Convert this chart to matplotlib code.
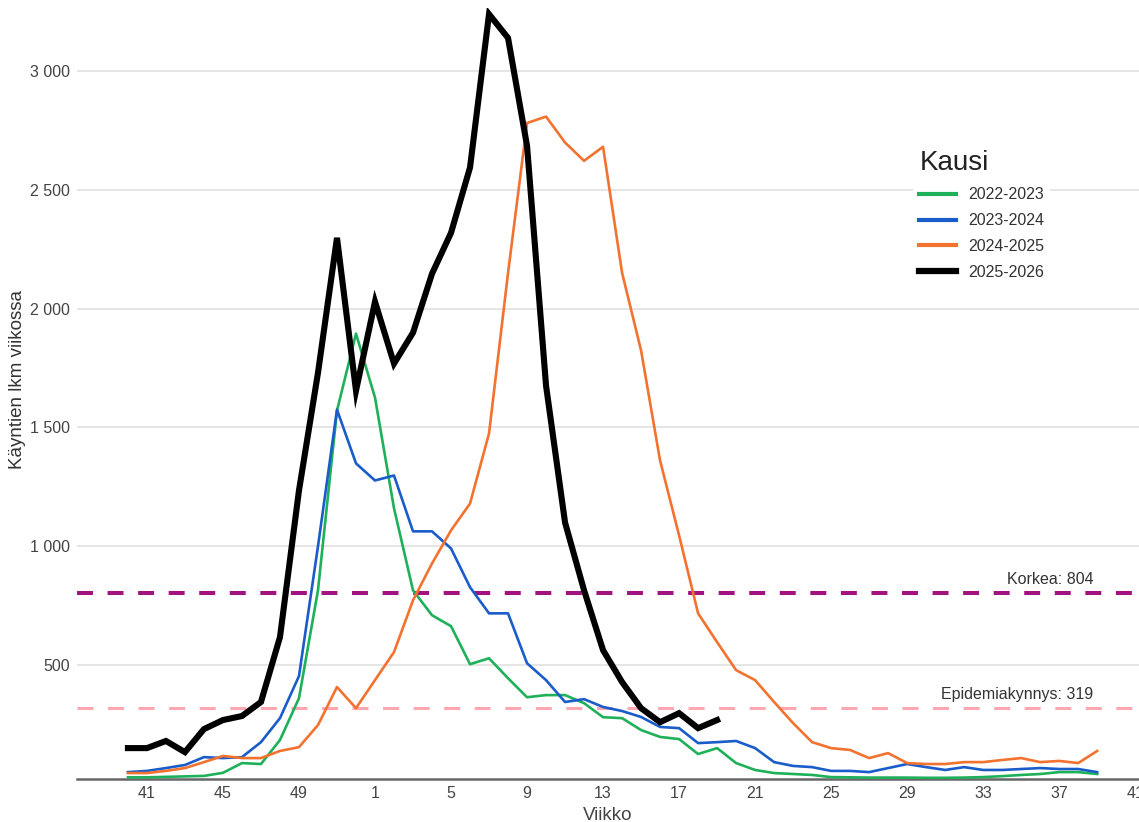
import matplotlib
matplotlib.use("Agg")
import matplotlib.pyplot as plt
from matplotlib.ticker import FuncFormatter

plt.rcParams['font.family'] = ['Liberation Sans', 'DejaVu Sans']
plt.rcParams['lines.scale_dashes'] = False

weeks = list(range(40, 53)) + list(range(1, 40))

s2022 = [28, 28, 30, 32, 34, 47, 88, 84, 185, 361, 815, 1571, 1895, 1626, 1160, 815,
         710, 664, 504, 529, 445, 365, 374, 374, 340, 281, 277, 227, 198, 189, 126, 151,
         88, 59, 46, 42, 38, 29, 28, 27, 27, 27, 26, 26, 27, 29, 33, 38, 42, 50, 50, 42]
s2023 = [50, 55, 67, 80, 113, 109, 113, 176, 277, 454, 1000, 1575, 1349, 1277, 1298, 1063,
         1063, 991, 828, 718, 718, 508, 437, 345, 357, 324, 307, 282, 240, 235, 172, 176,
         181, 151, 92, 76, 71, 55, 55, 50, 67, 84, 71, 59, 71, 59, 59, 63, 67, 63, 63, 50]
s2024 = [46, 46, 55, 67, 92, 118, 109, 109, 139, 155, 248, 408, 319, 437, 555, 773,
         928, 1067, 1180, 1475, 2150, 2781, 2808, 2699, 2622, 2681, 2151, 1824, 1361, 1046, 718, 597,
         479, 437, 345, 256, 176, 151, 143, 109, 130, 88, 84, 84, 92, 92, 101, 109, 92, 97, 88, 139]
s2025 = [151, 151, 181, 134, 231, 269, 286, 345, 618, 1235, 1730, 2298, 1655, 2029, 1769, 1899,
         2147, 2319, 2594, 3239, 3139, 2685, 1676, 1100, 815, 563, 429, 319, 260, 298, 235, 269]

series_labels = ['2022-2023', '2023-2024', '2024-2025', '2025-2026']
series_colors = ['#1fb05a', '#1a5cc9', '#f27230', '#000000']
series_widths = [1.9, 1.9, 1.9, 4.4]
all_series = [s2022, s2023, s2024, s2025]

tick_weeks = [41, 45, 49, 1, 5, 9, 13, 17, 21, 25, 29, 33, 37, 41]
tick_pos = [1, 5, 9, 13, 17, 21, 25, 29, 33, 37, 41, 45, 49, 53]

korkea = 804
epidemia = 319

W, H = 1139, 822
fig = plt.figure(figsize=(W / 100, H / 100), dpi=100)
ax = fig.add_axes([77 / W, 43 / H, (1139 - 77) / W, (779 - 8) / H])

for y in [500, 1000, 1500, 2000, 2500, 3000]:
    ax.axhline(y, color='#e0e0e0', lw=1.2, zorder=0)

ax.axhline(korkea, color='#a3137f', lw=2.9, dashes=(11.5, 10.5), zorder=1)
ax.axhline(epidemia, color='#ffa6b3', lw=2.2, dashes=(11.5, 10.5), zorder=1)

lines = []
for vals, lab, col, lw in zip(all_series, series_labels, series_colors, series_widths):
    xs = list(range(len(vals)))
    ln, = ax.plot(xs, vals, color=col, lw=lw, label=lab, zorder=3,
                  solid_joinstyle='miter' if lw > 3 else 'round')
    lines.append(ln)

ax.set_xlim(-2.68, 53.2)
ax.set_ylim(21, 3265)
ax.set_xticks(tick_pos)
ax.set_xticklabels([str(w) for w in tick_weeks])
ax.set_yticks([500, 1000, 1500, 2000, 2500, 3000])
ax.yaxis.set_major_formatter(FuncFormatter(lambda v, p: f"{int(v):,}".replace(',', ' ')))
ax.tick_params(axis='both', length=0, labelsize=11.5, labelcolor='#444444')
ax.tick_params(axis='y', pad=5)
ax.tick_params(axis='x', pad=5)

for s in ['top', 'right', 'left']:
    ax.spines[s].set_visible(False)
ax.spines['bottom'].set_color('#666666')
ax.spines['bottom'].set_linewidth(1.8)

ax.set_xlabel('Viikko', fontsize=13.5, color='#444444', labelpad=4)
fig.text(18 / W, 1 - 379 / H, 'Käyntien lkm viikossa', rotation=90, ha='center', va='center',
         fontsize=13.5, color='#333333')

ax.text(50.8, korkea + 25, f'Korkea: {korkea}', ha='right', va='bottom', fontsize=11.5, color='#333333')
ax.text(50.8, epidemia + 25, f'Epidemiakynnys: {epidemia}', ha='right', va='bottom', fontsize=11.5, color='#333333')

leg = ax.legend(handles=lines, title='Kausi', loc='upper left',
                bbox_to_anchor=(905 / W, 1 - 136 / H), bbox_transform=fig.transFigure,
                frameon=True, facecolor='white', edgecolor='none', framealpha=1,
                fontsize=11.5, title_fontsize=20, handlelength=2.3, handletextpad=0.75,
                labelspacing=0.68, borderpad=0.4, alignment='left', fancybox=False)
for t in leg.get_texts():
    t.set_color('#333333')
leg.get_title().set_color('#222222')
for lh, lw in zip(leg.legend_handles, [3, 3, 3, 4.5]):
    lh.set_linewidth(lw)

fig.savefig('out.png', dpi=100)
